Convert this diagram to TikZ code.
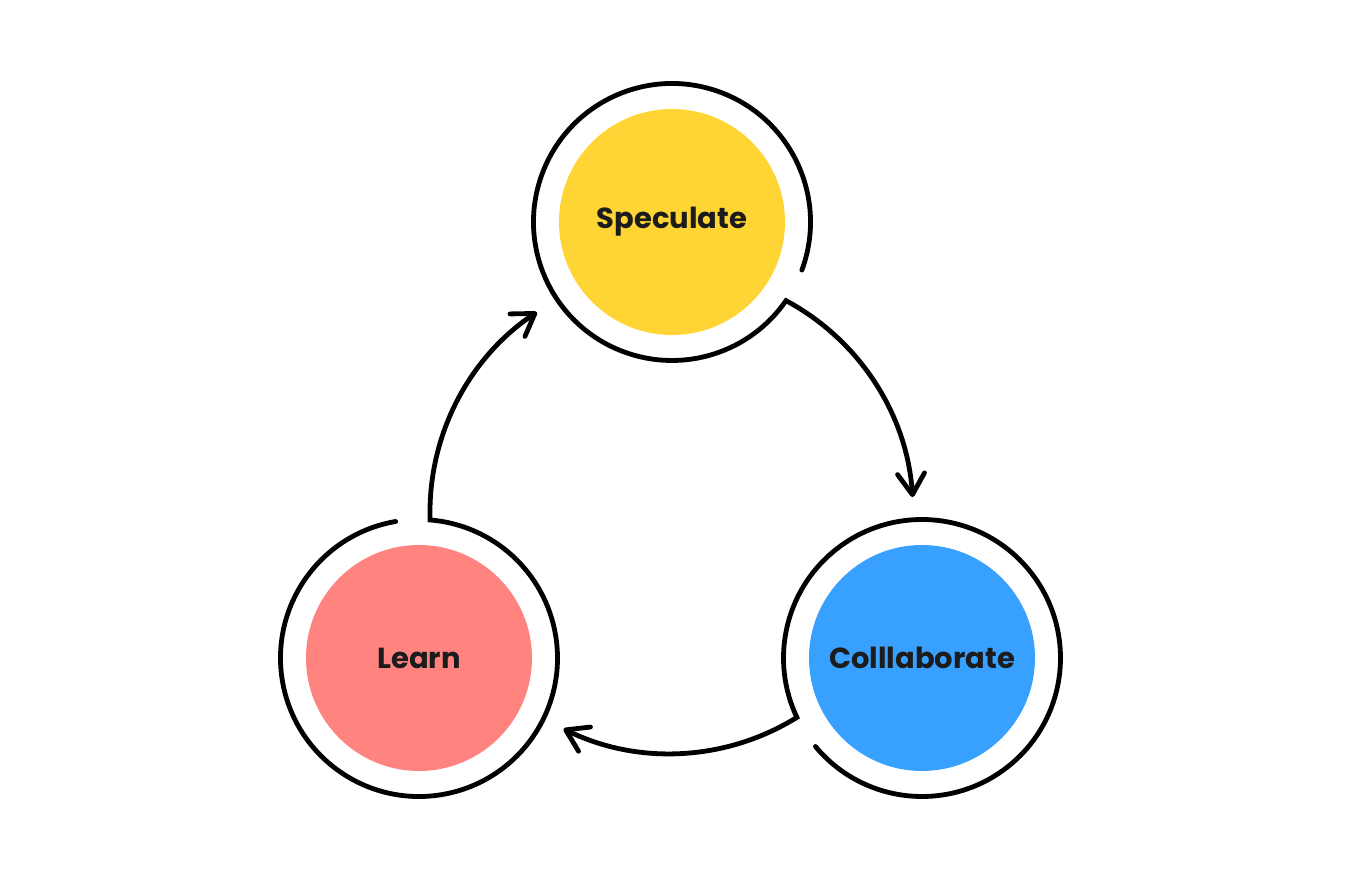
\documentclass[tikz,border=0pt]{standalone}
\usepackage{fontspec}
\setmainfont{Poppins}[BoldFont={Poppins Bold}]
\usetikzlibrary{arrows.meta,calc}
\definecolor{cyellow}{HTML}{FFD535}
\definecolor{cblue}{HTML}{38A1FF}
\definecolor{cpink}{HTML}{FF847F}
\definecolor{ctext}{HTML}{1C1C1C}
\begin{document}
\begin{tikzpicture}[x=1pt,y=1pt,
  stage/.style={circle,minimum size=226pt,inner sep=0pt,text=ctext,
    font=\fontsize{29}{34}\selectfont\bfseries},
  ring/.style={line width=4.8pt,line cap=round,line join=miter,
    -{Straight Barb[length=21pt,width=27pt,line width=4.8pt,round]}}]
\useasboundingbox (-671,-367) rectangle (689,513);
\node[stage,fill=cyellow] (spec) at (1,291) {Speculate};
\node[stage,fill=cblue] (coll) at (251,-145) {Colllaborate};
\node[stage,fill=cpink] (learn) at (-252,-145) {Learn};
\draw[ring] ($(spec.center)+(-20.3:138.5)$)
  arc[start angle=-20.3,end angle=325.4,radius=138.5]
  arc[start angle=61.8,end angle=3.8,radius=241];
\draw[ring] ($(coll.center)+(219.7:138.5)$)
  arc[start angle=219.7,end angle=565.4,radius=138.5]
  arc[start angle=-58.2,end angle=-116.2,radius=241];
\draw[ring] ($(learn.center)+(99.7:138.5)$)
  arc[start angle=99.7,end angle=445.4,radius=138.5]
  arc[start angle=181.8,end angle=123.8,radius=241];
\end{tikzpicture}
\end{document}
